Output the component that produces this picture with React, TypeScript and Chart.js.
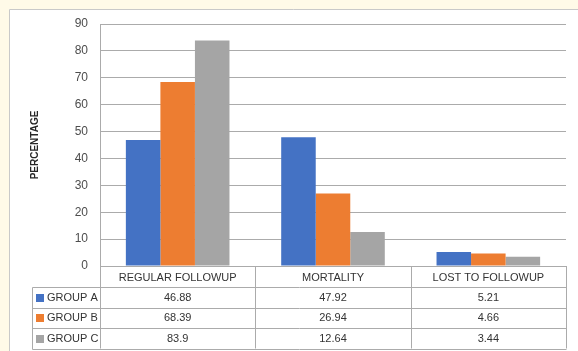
import React, { useEffect, useRef } from "react";
import { Chart, registerables } from "chart.js";

Chart.register(...registerables);

const categories = ["REGULAR FOLLOWUP", "MORTALITY", "LOST TO FOLLOWUP"];
const groupNames = ["GROUP A", "GROUP B", "GROUP C"];
const groupA = [46.88, 47.92, 5.21];
const groupB = [68.39, 26.94, 4.66];
const groupC = [83.9, 12.64, 3.44];
const groupValueLabels = [
  ["46.88", "47.92", "5.21"],
  ["68.39", "26.94", "4.66"],
  ["83.9", "12.64", "3.44"],
];
const colors = ["#4472C4", "#ED7D31", "#A5A5A5"];
const yTicks = [0, 10, 20, 30, 40, 50, 60, 70, 80, 90];

const FONT = "'Liberation Sans', Arial, sans-serif";
const LINE = "#ababab";

const tablePlugin = {
  id: "dataTable",
  beforeDraw(chart: any) {
    const { ctx, width, height } = chart;
    ctx.save();
    ctx.fillStyle = "#fffae8";
    ctx.fillRect(0, 0, width, height);
    ctx.fillStyle = "#ffffff";
    ctx.fillRect(9, 9, width, height);
    ctx.strokeStyle = "#c9c9c9";
    ctx.lineWidth = 1;
    ctx.beginPath();
    ctx.moveTo(9.5, height);
    ctx.lineTo(9.5, 9.5);
    ctx.lineTo(width, 9.5);
    ctx.stroke();
    ctx.restore();
  },
  afterDraw(chart: any) {
    const { ctx, chartArea } = chart;
    const x = chart.scales.x;
    const n = categories.length;
    const left = chartArea.left;
    const right = chartArea.right;
    const base = chartArea.bottom;
    const colW = (right - left) / n;
    const headerH = 21;
    const rowH = 20.5;
    const legendLeft = 32;
    const rowsTop = base + headerH;
    const tableBottom = rowsTop + rowH * groupNames.length;
    const px = (v: number) => Math.round(v) + 0.5;

    ctx.save();
    ctx.strokeStyle = LINE;
    ctx.lineWidth = 1;
    ctx.beginPath();
    for (let i = 0; i <= n; i++) {
      const xx = px(left + colW * i);
      ctx.moveTo(xx, base);
      ctx.lineTo(xx, tableBottom);
    }
    ctx.moveTo(px(legendLeft), px(rowsTop));
    ctx.lineTo(px(legendLeft), px(tableBottom));
    for (let r = 0; r <= groupNames.length; r++) {
      const yy = px(rowsTop + rowH * r);
      ctx.moveTo(px(legendLeft), yy);
      ctx.lineTo(px(right), yy);
    }
    ctx.stroke();

    ctx.font = `11px ${FONT}`;
    ctx.fillStyle = "#333333";
    ctx.textBaseline = "middle";
    ctx.textAlign = "center";
    for (let i = 0; i < n; i++) {
      const cx = x.getPixelForValue(i);
      ctx.fillText(categories[i], cx, base + headerH / 2 + 1);
    }
    for (let r = 0; r < groupNames.length; r++) {
      const cy = rowsTop + rowH * r + rowH / 2 + 0.5;
      ctx.fillStyle = colors[r];
      ctx.fillRect(36, Math.round(cy - 4), 8, 8);
      ctx.fillStyle = "#333333";
      ctx.textAlign = "left";
      ctx.fillText(groupNames[r], 47, cy);
      ctx.textAlign = "center";
      for (let i = 0; i < n; i++) {
        ctx.fillText(groupValueLabels[r][i], x.getPixelForValue(i), cy);
      }
    }
    ctx.restore();
  },
};

export default function App() {
  const ref = useRef<HTMLCanvasElement>(null);
  useEffect(() => {
    document.body.style.margin = "0";
    const chart = new Chart(ref.current!, {
      type: "bar",
      data: {
        labels: categories,
        datasets: [
          { label: groupNames[0], data: groupA, backgroundColor: colors[0] },
          { label: groupNames[1], data: groupB, backgroundColor: colors[1] },
          { label: groupNames[2], data: groupC, backgroundColor: colors[2] },
        ],
      },
      options: {
        animation: false,
        responsive: false,
        maintainAspectRatio: false,
        layout: { padding: { top: 24, right: 12, bottom: 85, left: 0 } },
        datasets: { bar: { categoryPercentage: 0.667, barPercentage: 1 } },
        plugins: { legend: { display: false }, tooltip: { enabled: false } },
        scales: {
          x: { display: false },
          y: {
            min: 0,
            max: 90,
            afterFit: (s: any) => {
              s.width = 100;
            },
            afterBuildTicks: (s: any) => {
              s.ticks = yTicks.map((v) => ({ value: v }));
            },
            ticks: {
              padding: 12,
              color: "#4d4d4d",
              font: { family: FONT, size: 12 },
            },
            grid: { color: LINE, drawTicks: false },
            border: { display: true, color: LINE },
            title: {
              display: true,
              text: "PERCENTAGE",
              color: "#262626",
              font: { family: FONT, size: 10, weight: "bold" },
              padding: { top: 29, bottom: 0 },
            },
          },
        },
      },
      plugins: [tablePlugin],
    });
    return () => chart.destroy();
  }, []);
  return (
    <div style={{ width: 578, height: 351 }}>
      <canvas ref={ref} width={578} height={351} style={{ display: "block" }} />
    </div>
  );
}
